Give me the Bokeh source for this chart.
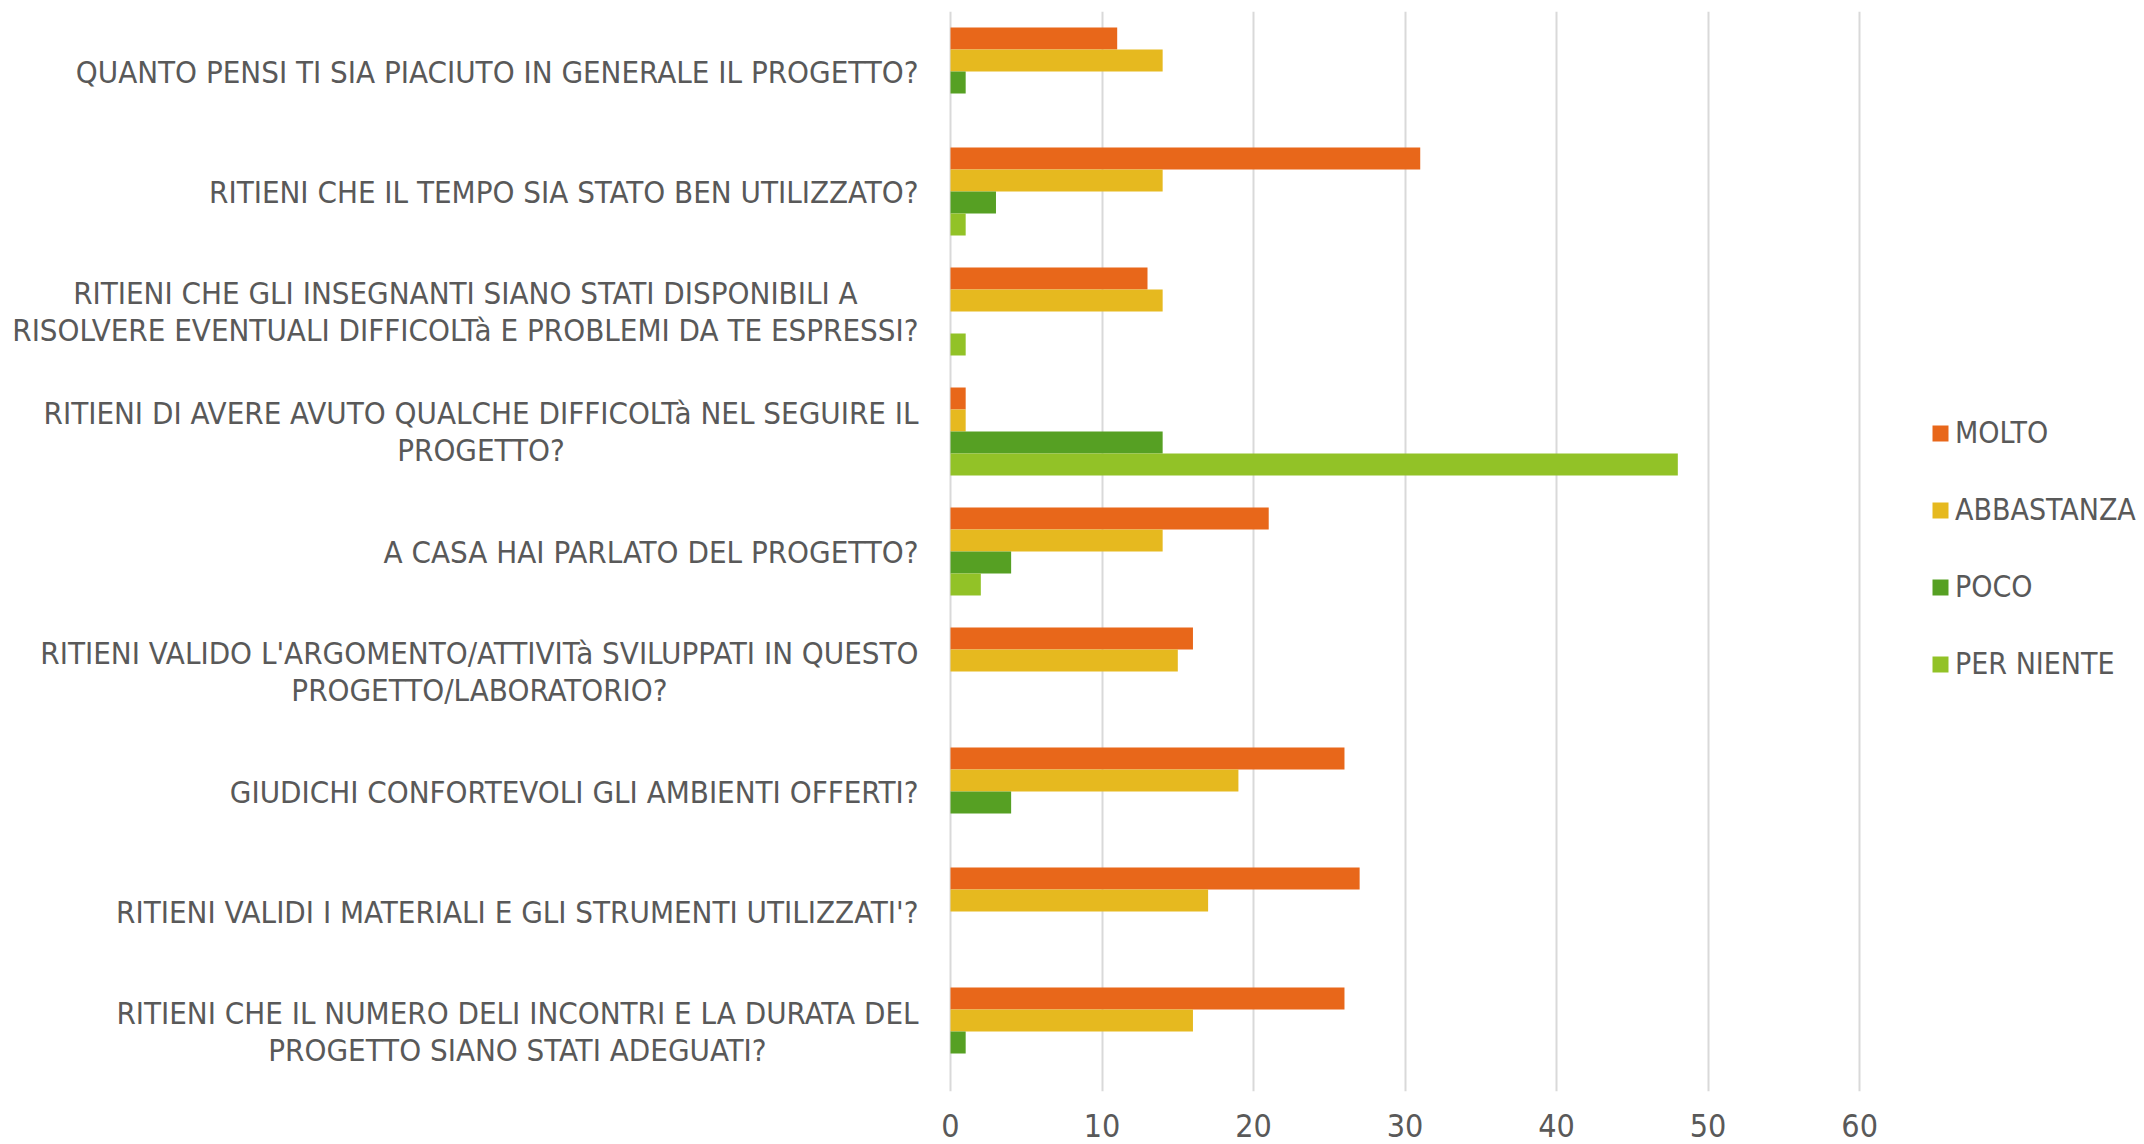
from bokeh.plotting import figure
from bokeh.models import FactorRange, FixedTicker, Legend, LegendItem, ColumnDataSource, Range1d
from bokeh.transform import dodge
from bokeh.core.properties import value
from bokeh.embed import file_html
from bokeh.resources import INLINE

questions = [
    "QUANTO PENSI TI SIA PIACIUTO IN GENERALE IL PROGETTO?",
    "RITIENI CHE IL TEMPO SIA STATO BEN UTILIZZATO?",
    "RITIENI CHE GLI INSEGNANTI SIANO STATI DISPONIBILI A\nRISOLVERE EVENTUALI DIFFICOLTà E PROBLEMI DA TE ESPRESSI?",
    "RITIENI DI AVERE AVUTO QUALCHE DIFFICOLTà NEL SEGUIRE IL\nPROGETTO?",
    "A CASA HAI PARLATO DEL PROGETTO?",
    "RITIENI VALIDO L'ARGOMENTO/ATTIVITà SVILUPPATI IN QUESTO\nPROGETTO/LABORATORIO?",
    "GIUDICHI CONFORTEVOLI GLI AMBIENTI OFFERTI?",
    "RITIENI VALIDI I MATERIALI E GLI STRUMENTI UTILIZZATI'?",
    "RITIENI CHE IL NUMERO DELI INCONTRI E LA DURATA DEL\nPROGETTO SIANO STATI ADEGUATI?",
]
molto      = [11, 31, 13, 1, 21, 16, 26, 27, 26]
abbastanza = [14, 14, 14, 1, 14, 15, 19, 17, 16]
poco       = [1, 3, 0, 14, 4, 0, 4, 0, 1]
per_niente = [0, 1, 1, 48, 2, 0, 0, 0, 0]
series_names = ["MOLTO", "ABBASTANZA", "POCO", "PER NIENTE"]
x_ticks = [0, 10, 20, 30, 40, 50, 60]

colors = ["#E8671A", "#E6B91F", "#56A023", "#92C227"]
FONT = "Liberation Sans Narrow, DejaVu Sans Condensed, Open Sans, sans-serif"
TXT = "#595959"

source = ColumnDataSource(dict(q=questions, molto=molto, abbastanza=abbastanza,
                               poco=poco, per_niente=per_niente))

W, H = 2144, 1144
p = figure(width=W, height=H, output_backend="svg", toolbar_location=None,
           y_range=FactorRange(factors=list(reversed(questions)), range_padding=0),
           x_range=Range1d(-62.7, 78.8), y_axis_location=None,
           min_border_left=0, min_border_right=0, min_border_top=11, min_border_bottom=53)
p.outline_line_color = None
p.ygrid.grid_line_color = None
p.xgrid.ticker = FixedTicker(ticks=x_ticks)
p.xgrid.grid_line_color = "#D9D9D9"
p.xgrid.grid_line_width = 2

bh = 0.1833
offsets = [1.5 * bh, 0.5 * bh, -0.5 * bh, -1.5 * bh]
cols = ["molto", "abbastanza", "poco", "per_niente"]
renderers = []
for col, off, c in zip(cols, offsets, colors):
    r = p.hbar(y=dodge("q", off, range=p.y_range), left=0, right=col, height=bh,
               source=source, fill_color=c, line_color=None)
    renderers.append(r)

p.text(x=0, y="q", text="q", source=source, x_offset=-32,
       anchor="center_right", text_align="center", text_baseline="middle",
       text_font=value(FONT), text_font_size="31px", text_color=TXT,
       text_line_height=1.04)

ax = p.xaxis[0]
ax.ticker = FixedTicker(ticks=x_ticks)
ax.axis_line_color = None
ax.major_tick_line_color = None
ax.minor_tick_line_color = None
ax.major_label_standoff = 16
ax.major_label_text_font = FONT
ax.major_label_text_font_size = "32px"
ax.major_label_text_color = TXT

legend = Legend(items=[LegendItem(label=n, renderers=[r]) for n, r in zip(series_names, renderers)],
                location=(1930, 410), orientation="vertical",
                glyph_width=20, glyph_height=20, label_standoff=5, spacing=42,
                padding=0, margin=0, border_line_color=None, background_fill_alpha=0,
                label_text_font=FONT, label_text_font_size="30px", label_text_color=TXT)
p.add_layout(legend)

open("out.html", "w").write(file_html(p, INLINE))
